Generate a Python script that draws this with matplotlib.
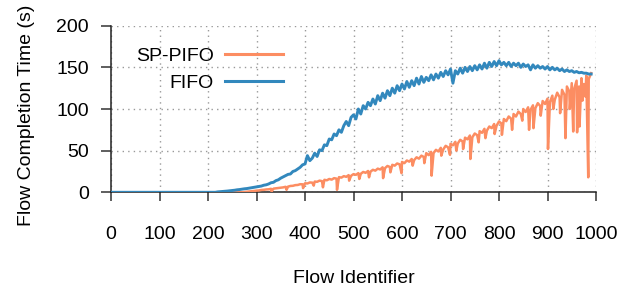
import matplotlib
matplotlib.use("Agg")
import matplotlib.pyplot as plt

# ---------------- data ----------------
fifo_flows = list(range(0, 995, 5))
fifo_fct = (
    [0.0] * 44 +                                     # flows 0..215
    [0.5, 0.8, 1.0, 1.2, 1.5, 1.8, 2.2, 2.5, 3.0, 3.3,   # 220..265
     3.8, 4.2, 4.5, 5.0, 5.5, 6.0, 6.5, 7.0, 7.5, 8.5,   # 270..315
     9.0, 10.0, 11.5, 12.0, 14.0, 15.0, 17.0, 18.5, 20.0, 21.5,  # 320..365
     22.0, 25.0, 26.0, 28.0, 30.0, 33.0, 34.0, 44.0, 38.0, 41.0,  # 370..415
     47.0, 43.0, 51.0, 50.0, 57.0, 56.0, 64.0, 63.0, 70.0, 68.0,  # 420..465
     75.0, 72.0, 80.0, 85.0, 80.0, 90.0, 93.0, 88.0, 100.0, 94.0,  # 470..515
     104.0, 100.0, 108.0, 104.0, 112.0, 106.0, 116.0, 110.0, 119.0, 113.0,  # 520..565
     122.0, 116.0, 125.0, 119.0, 128.0, 122.0, 130.0, 124.0, 133.0, 126.0,  # 570..615
     134.0, 128.0, 137.0, 130.0, 139.0, 132.0, 138.0, 134.0, 141.0, 135.0,  # 620..665
     142.0, 137.0, 144.0, 139.0, 146.0, 141.0, 148.0, 131.0, 146.0, 142.0,  # 670..715
     149.0, 143.0, 150.0, 145.0, 151.0, 146.0, 152.0, 147.0, 153.0, 148.0,  # 720..765
     155.0, 149.0, 156.0, 151.0, 157.0, 152.0, 158.0, 153.0, 156.0, 152.0,  # 770..815
     156.0, 151.0, 155.0, 152.0, 155.0, 150.0, 154.0, 151.0, 153.0, 147.0,  # 820..865
     153.0, 149.0, 152.0, 149.0, 151.0, 148.0, 151.0, 147.0, 150.0, 147.0,  # 870..915
     149.0, 146.0, 148.0, 145.0, 147.0, 145.0, 146.0, 144.0, 145.0, 143.5,  # 920..965
     144.0, 143.0, 143.0, 142.0, 142.0]                  # 970..990
)

sp_flows = list(range(0, 995, 5))
sp_fct = (
    [0.0] * 55 +                                     # flows 0..270
    [0.3, 0.6, 1.0, 1.2, 1.6, 2.0, 2.2, 2.8, 3.0, 3.4,   # 275..320
     3.6, 4.2, 4.4, 4.8, 5.2, 5.6, 5.9, 6.6, 6.8, 7.6,   # 325..370
     7.8, 8.6, 8.8, 9.7, 9.6, 10.8, 10.6, 11.8, 11.6, 12.9,  # 375..420
     12.6, 14.0, 13.4, 15.0, 14.4, 16.0, 15.2, 17.0, 16.4, 18.2,  # 425..470
     17.6, 19.4, 18.6, 20.6, 19.8, 21.8, 21.0, 23.0, 22.2, 24.4,  # 475..520
     23.4, 25.6, 24.8, 27.0, 26.0, 28.4, 27.4, 30.0, 29.0, 31.6,  # 525..570
     30.4, 33.0, 32.0, 34.6, 33.6, 36.4, 35.0, 38.2, 36.8, 40.0,  # 575..620
     38.6, 42.0, 40.4, 44.0, 42.4, 47.0, 44.6, 48.6, 47.0, 51.0,  # 625..670
     49.0, 53.4, 51.4, 55.8, 54.0, 58.2, 56.4, 60.6, 58.6, 63.0,  # 675..720
     61.0, 65.6, 63.6, 68.2, 66.0, 70.6, 68.6, 73.4, 71.4, 76.2,  # 725..770
     74.0, 79.0, 77.0, 82.0, 80.0, 85.0, 82.6, 88.0, 85.4, 91.0,  # 775..820
     88.4, 94.0, 91.0, 96.8, 94.0, 100.0, 96.4, 102.0, 99.0, 104.4,  # 825..870
     101.0, 107.0, 103.6, 109.6, 106.0, 112.4, 108.4, 116.0, 111.0, 119.6,  # 875..920
     114.0, 123.0, 117.0, 127.0, 121.0, 131.0, 124.0, 134.0, 127.0, 137.0,  # 925..970
     130.0, 140.0, 136.0, 143.0]                         # 975..990
)

# single-flow drops of SP-PIFO
sp_drop_flows = [331, 362, 396, 418, 437, 466, 491, 512, 532, 561, 576, 599,
                 622, 646, 661, 681, 699, 712, 726, 741, 758, 772, 791, 806,
                 827, 848, 862, 871, 886, 901, 912, 926, 937, 946, 953, 961,
                 966, 972, 978, 984]
sp_drop_fct = [1.0, 3.0, 5.0, 8.0, 6.0, 3.0, 14.0, 16.0, 18.0, 17.0, 24.0, 23.0,
               32.0, 35.0, 20.0, 44.0, 45.0, 50.0, 52.0, 40.0, 60.0, 65.0, 70.0, 69.0,
               75.0, 86.0, 75.0, 77.0, 92.0, 52.0, 100.0, 95.0, 65.0, 100.0, 73.0, 72.0,
               79.0, 110.0, 115.0, 18.0]

series_labels = ["SP-PIFO", "FIFO"]
x_ticks = [0, 100, 200, 300, 400, 500, 600, 700, 800, 900, 1000]
y_ticks = [0, 50, 100, 150, 200]
x_label = "Flow Identifier"
y_label = "Flow Completion Time (s)"

# ---------------- style ----------------
plt.rcParams["font.family"] = ["Liberation Sans", "DejaVu Sans"]
FS = 14

SP_COLOR = "#fc8d62"
FIFO_COLOR = "#3288bd"

fig = plt.figure(figsize=(6.35, 2.91), dpi=100)
ax = fig.add_axes([111 / 635, 1 - 192.3 / 291, 485 / 635, 166.6 / 291])

# merge SP-PIFO base curve with its drops
pts = sorted(zip(sp_flows + sp_drop_flows, sp_fct + sp_drop_fct))
spx = [p[0] for p in pts]
spy = [p[1] for p in pts]

ax.plot(spx, spy, color=SP_COLOR, lw=1.8, label=series_labels[0], zorder=3)
ax.plot(fifo_flows, fifo_fct, color=FIFO_COLOR, lw=2.1, label=series_labels[1], zorder=4)

ax.set_xlim(0, 1000)
ax.set_ylim(0, 200)
ax.set_xticks(x_ticks)
ax.set_yticks(y_ticks)
ax.grid(True, color="#999999", linestyle=(0, (1, 3)), linewidth=1.0)
ax.set_axisbelow(True)

for s in ["top", "right"]:
    ax.spines[s].set_visible(False)
for s in ["left", "bottom"]:
    ax.spines[s].set_linewidth(1.1)
    ax.spines[s].set_color("#222222")

ax.tick_params(axis="x", direction="out", length=6.5, width=1.1, color="#333333",
               pad=18, labelsize=FS)
ax.tick_params(axis="y", direction="out", length=7, width=1.1, color="#333333",
               pad=9, labelsize=FS)

ax.set_xlabel(x_label, fontsize=FS, labelpad=19)
ax.set_ylabel(y_label, fontsize=FS)
ax.yaxis.set_label_coords(-0.157, 0.462)

leg = ax.legend(loc="upper right", bbox_to_anchor=(0.3546, 0.871), frameon=False,
                markerfirst=False, fontsize=FS, handlelength=3.0, handletextpad=0.55,
                labelspacing=0.5, borderpad=0, borderaxespad=0)
for ln in leg.get_lines():
    ln.set_linewidth(2.2)

fig.savefig("out.png", dpi=100)
